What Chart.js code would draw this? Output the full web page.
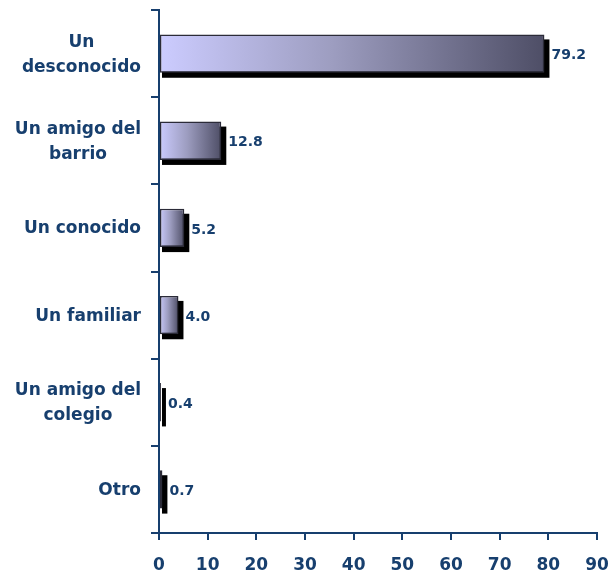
<!DOCTYPE html>
<html>
<head>
<meta charset="utf-8">
<script src="https://cdn.jsdelivr.net/npm/chart.js@4/dist/chart.umd.min.js"></script>
<style>
  html, body { margin: 0; padding: 0; background: #ffffff; }
  #wrap { width: 612px; height: 575px; }
</style>
</head>
<body>
<div id="wrap"><canvas id="c" width="612" height="575"></canvas></div>
<script>
// ---- data ----
const categories = [
  ["Un", "desconocido"],
  ["Un amigo del", "barrio"],
  ["Un conocido"],
  ["Un familiar"],
  ["Un amigo del", "colegio"],
  ["Otro"]
];
const values = [79.2, 12.8, 5.2, 4.0, 0.4, 0.7];
const valueLabels = ["79.2", "12.8", "5.2", "4.0", "0.4", "0.7"];
const xTicks = [0, 10, 20, 30, 40, 50, 60, 70, 80, 90];

// ---- style ----
const NAVY = '#173f6e';
const FONT = '"DejaVu Sans", Verdana, sans-serif';

function barGradient(ctx) {
  const chart = ctx.chart;
  const xs = chart.scales && chart.scales.x;
  if (ctx.type !== 'data' || !xs) return '#ccccff';
  const x0 = xs.getPixelForValue(0);
  const x1 = xs.getPixelForValue(ctx.raw);
  if (!isFinite(x0) || !isFinite(x1) || x1 - x0 < 1) return '#55556e';
  const g = chart.ctx.createLinearGradient(x0, 0, x1, 0);
  g.addColorStop(0, '#ccccff');
  g.addColorStop(0.45, '#9d9dc0');
  g.addColorStop(1, '#4e4e66');
  return g;
}

const shadowPlugin = {
  id: 'barShadow',
  beforeDatasetsDraw(chart) {
    const c = chart.ctx;
    const meta = chart.getDatasetMeta(0);
    c.save();
    c.fillStyle = '#000000';
    meta.data.forEach(el => {
      const p = el.getProps(['x', 'y', 'base', 'height'], true);
      const top = p.y - p.height / 2;
      c.fillRect(p.base + 2, top + 5, (p.x - p.base) + 3, p.height);
    });
    c.restore();
  }
};

const valuePlugin = {
  id: 'valueLabels',
  afterDatasetsDraw(chart) {
    const c = chart.ctx;
    const meta = chart.getDatasetMeta(0);
    c.save();
    c.fillStyle = NAVY;
    c.font = 'bold 14px ' + FONT;
    c.textAlign = 'left';
    c.textBaseline = 'middle';
    meta.data.forEach((el, i) => {
      const p = el.getProps(['x', 'y'], true);
      c.fillText(valueLabels[i], p.x + 7, p.y + 2);
    });
    c.restore();
  }
};

const catLabelPlugin = {
  id: 'catLabels',
  afterDraw(chart) {
    const c = chart.ctx;
    const ys = chart.scales.y;
    const rightEdge = 141;
    const lh = 25;
    c.save();
    c.fillStyle = NAVY;
    c.font = 'bold 17px ' + FONT;
    c.textAlign = 'center';
    c.textBaseline = 'middle';
    categories.forEach((lines, i) => {
      const yc = ys.getPixelForValue(i);
      const w = Math.max(...lines.map(l => c.measureText(l).width));
      const xc = rightEdge - w / 2;
      const y0 = yc - (lines.length - 1) * lh / 2 + 1;
      lines.forEach((l, k) => c.fillText(l, xc, y0 + k * lh));
    });
    c.restore();
  }
};

new Chart(document.getElementById('c'), {
  type: 'bar',
  data: {
    labels: categories.map(l => l.join(' ')),
    datasets: [{
      data: values,
      backgroundColor: barGradient,
      borderColor: '#2b2b38',
      borderWidth: 1.5,
      borderSkipped: false,
      barPercentage: 0.44,
      categoryPercentage: 1.0
    }]
  },
  options: {
    indexAxis: 'y',
    responsive: false,
    animation: false,
    devicePixelRatio: 1,
    layout: { padding: { top: 10, right: 15, left: 0, bottom: 0 } },
    plugins: { legend: { display: false }, tooltip: { enabled: false } },
    scales: {
      x: {
        min: 0, max: 90,
        afterBuildTicks(scale) { scale.ticks = xTicks.map(v => ({ value: v })); },
        ticks: { color: NAVY, font: { family: FONT, size: 17, weight: 'bold' }, padding: 15 },
        grid: { drawOnChartArea: false, color: NAVY, lineWidth: 2, tickLength: 7 },
        border: { color: NAVY, width: 2 },
        afterFit(scale) {
          scale.height = 42;
          scale.paddingLeft = 0; scale.paddingRight = 0;
          scale.paddingTop = 0; scale.paddingBottom = 0;
        }
      },
      y: {
        ticks: { display: false },
        grid: { drawOnChartArea: false, color: NAVY, lineWidth: 2, tickLength: 8, offset: true },
        border: { color: NAVY, width: 2 },
        afterFit(scale) {
          scale.width = 159;
          scale.paddingTop = 0; scale.paddingBottom = 0;
          scale.paddingLeft = 0; scale.paddingRight = 0;
        }
      }
    }
  },
  plugins: [shadowPlugin, valuePlugin, catLabelPlugin]
});
</script>
</body>
</html>
